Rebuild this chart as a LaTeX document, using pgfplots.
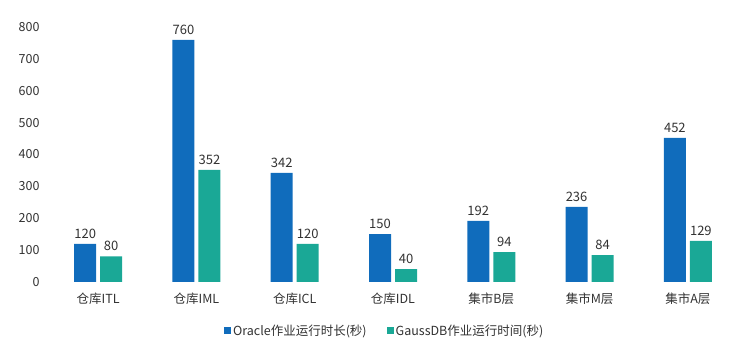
\documentclass[border=0pt]{standalone}
\usepackage{fontspec}
\setmainfont{Noto Sans CJK SC}
\usepackage{pgfplots}
\pgfplotsset{compat=1.18}
\definecolor{oblue}{RGB}{16,108,188}
\definecolor{gteal}{RGB}{26,168,150}
\definecolor{txt}{RGB}{50,50,50}
\begin{document}
\begin{tikzpicture}
\path[use as bounding box] (0,0) rectangle (754pt,353pt);
\begin{axis}[
  at={(49pt,71pt)}, anchor=south west,
  scale only axis, width=688pt, height=255pt,
  ymin=0, ymax=800, xmin=-0.5, xmax=6.5,
  ybar=4pt, bar width=22pt,
  axis line style={draw=none}, tick style={draw=none},
  ytick={0,100,...,800},
  xtick=data,
  xticklabels={仓库ITL,仓库IML,仓库ICL,仓库IDL,集市B层,集市M层,集市A层},
  /pgf/number format/assume math mode=true,
  ticklabel style={font=\fontsize{12.5}{14}\selectfont, text=txt},
  yticklabel style={xshift=-6pt},
  xticklabel style={yshift=-3pt},
  nodes near coords,
  every node near coord/.append style={font=\fontsize{13}{15}\selectfont, text=txt, yshift=2pt},
  legend style={at={(0.488,-0.192)}, anchor=center, draw=none, legend columns=2,
    font=\fontsize{12.5}{14}\selectfont, text=txt,
    /tikz/every even column/.append style={column sep=18pt}},
  legend image code/.code={\fill[#1] (0pt,-3.5pt) rectangle (7pt,3.5pt);},
]
\addplot[fill=oblue, draw=none] coordinates {(0,120) (1,760) (2,342) (3,150) (4,192) (5,236) (6,452)};
\addplot[fill=gteal, draw=none] coordinates {(0,80) (1,352) (2,120) (3,40) (4,94) (5,84) (6,129)};
\legend{Oracle作业运行时长(秒), GaussDB作业运行时间(秒)}
\end{axis}
\end{tikzpicture}
\end{document}
